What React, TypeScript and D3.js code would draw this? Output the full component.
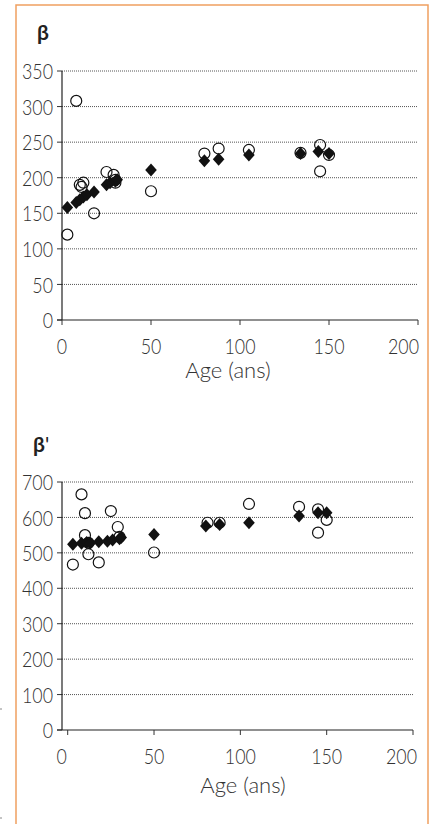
import React from "react";
import * as d3 from "d3";

// ---- Data ----
const betaOpenAge = [8, 3, 18, 10, 12, 11, 25, 29, 30, 30, 50, 80, 88, 105, 134, 145, 145, 150];
const betaOpenVal = [308, 120, 150, 190, 193, 187, 208, 204, 197, 193, 181, 234, 241, 239, 235, 246, 209, 232];
const betaFilledAge = [3, 8, 10, 12, 14, 18, 25, 27, 30, 31, 50, 80, 88, 105, 134, 144, 150];
const betaFilledVal = [158, 165, 169, 173, 176, 180, 190, 193, 195, 197, 211, 224, 226, 232, 234, 237, 234];

const betaPOpenAge = [8, 10, 25, 29, 10, 12, 3, 18, 50, 12, 30, 81, 88, 105, 134, 145, 150, 145];
const betaPOpenVal = [665, 612, 618, 573, 550, 496, 467, 473, 501, 528, 545, 585, 585, 638, 630, 623, 593, 557];
const betaPFilledAge = [3, 8, 11, 13, 18, 23, 26, 30, 31, 50, 80, 88, 105, 134, 145, 150];
const betaPFilledVal = [524, 527, 529, 527, 531, 533, 536, 540, 543, 552, 576, 580, 585, 604, 613, 613];

const xTicks = [0, 50, 100, 150, 200];
const betaYTicks = [0, 50, 100, 150, 200, 250, 300, 350];
const betaPYTicks = [0, 100, 200, 300, 400, 500, 600, 700];
const xLabel = "Age (ans)";

const FONT = "Lato, 'Open Sans', sans-serif";
const TXT = "#333";

type PanelProps = {
  title: React.ReactNode;
  titleX: number;
  titleY: number;
  xRange: [number, number];
  yDomainMax: number;
  yRange: [number, number];
  yTicks: number[];
  openAge: number[];
  openVal: number[];
  filledAge: number[];
  filledVal: number[];
  axisX: number;
  gridRight: number;
  labelCx: number;
  labelY: number;
  xLabelPos: (t: number, px: number) => { x: number; anchor: string };
};

function Num({ x, y, anchor, children }: { x: number; y: number; anchor: string; children: React.ReactNode }) {
  return (
    <text transform={`translate(${x},${y}) scale(0.85,1)`} textAnchor={anchor}
      dominantBaseline="central" fontFamily={FONT} fontWeight={300} fontSize={21} fill={TXT}>
      {children}
    </text>
  );
}

function Panel(p: PanelProps) {
  const x = d3.scaleLinear().domain([0, 200]).range(p.xRange);
  const y = d3.scaleLinear().domain([0, p.yDomainMax]).range(p.yRange);
  const y0 = y(0);
  const diamond = (cx: number, cy: number) =>
    `M${cx},${cy - 6.5}L${cx + 5.8},${cy}L${cx},${cy + 6.5}L${cx - 5.8},${cy}Z`;
  return (
    <g>
      <text x={p.titleX} y={p.titleY} fontFamily={FONT} fontWeight={700} fontSize={21} fill="#222">
        {p.title}
      </text>
      {p.yTicks.filter((t) => t > 0).map((t) => (
        <line key={"g" + t} x1={p.axisX} x2={p.gridRight} y1={y(t)} y2={y(t)}
          stroke="#555" strokeWidth={1} strokeDasharray="1,1" />
      ))}
      {p.yTicks.map((t) => (
        <g key={"y" + t}>
          <line x1={p.axisX - 5} x2={p.axisX} y1={y(t)} y2={y(t)} stroke="#333" strokeWidth={1} />
          <Num x={53} y={y(t)} anchor="end">{t}</Num>
        </g>
      ))}
      <line x1={p.axisX} x2={p.axisX} y1={y(p.yDomainMax)} y2={y0} stroke="#222" strokeWidth={1.2} />
      <line x1={p.axisX - 5} x2={x(200)} y1={y0} y2={y0} stroke="#222" strokeWidth={1.2} />
      {xTicks.map((t) => {
        const lp = p.xLabelPos(t, x(t));
        return (
          <g key={"x" + t}>
            <line x1={x(t)} x2={x(t)} y1={y0} y2={y0 + 5} stroke="#333" strokeWidth={1} />
            <Num x={lp.x} y={y0 + 26} anchor={lp.anchor}>{t}</Num>
          </g>
        );
      })}
      <text x={p.labelCx} y={p.labelY} textAnchor="middle" fontFamily={FONT} fontWeight={300}
        fontSize={22} fill={TXT}>{xLabel}</text>
      {p.openAge.map((a, i) => (
        <circle key={"o" + i} cx={x(a)} cy={y(p.openVal[i])} r={5.5} fill="none"
          stroke="#111" strokeWidth={1.2} />
      ))}
      {p.filledAge.map((a, i) => (
        <path key={"d" + i} d={diamond(x(a), y(p.filledVal[i]))} fill="#111" />
      ))}
    </g>
  );
}

export default function App() {
  return (
    <svg width={433} height={824} style={{ position: "absolute", left: 0, top: 0, background: "#fff" }}>
      <rect x={0} y={0} width={433} height={824} fill="#fff" />
      <path d="M16,830 V5 H428 V830" fill="none" stroke="#F0A060" strokeWidth={1.5} />
      <line x1={0} x2={2} y1={709} y2={709} stroke="#888" />
      <line x1={0} x2={2} y1={818} y2={818} stroke="#888" />
      <Panel
        title="β"
        titleX={37}
        titleY={40}
        xRange={[62, 418]}
        yDomainMax={350}
        yRange={[320, 71]}
        yTicks={betaYTicks}
        openAge={betaOpenAge}
        openVal={betaOpenVal}
        filledAge={betaFilledAge}
        filledVal={betaFilledVal}
        axisX={62}
        gridRight={417}
        labelCx={228}
        labelY={378}
        xLabelPos={(t, px) => (t === 200 ? { x: 419, anchor: "end" } : { x: px, anchor: "middle" })}
      />
      <Panel
        title={<><tspan>β</tspan><tspan fontWeight={400}>'</tspan></>}
        titleX={33}
        titleY={452}
        xRange={[67.7, 413]}
        yDomainMax={700}
        yRange={[730, 482]}
        yTicks={betaPYTicks}
        openAge={betaPOpenAge}
        openVal={betaPOpenVal}
        filledAge={betaPFilledAge}
        filledVal={betaPFilledVal}
        axisX={62}
        gridRight={413}
        labelCx={243}
        labelY={793}
        xLabelPos={(t, px) =>
          t === 200 ? { x: 417, anchor: "end" } : t === 0 ? { x: 61.7, anchor: "middle" } : { x: px, anchor: "middle" }}
      />
    </svg>
  );
}
